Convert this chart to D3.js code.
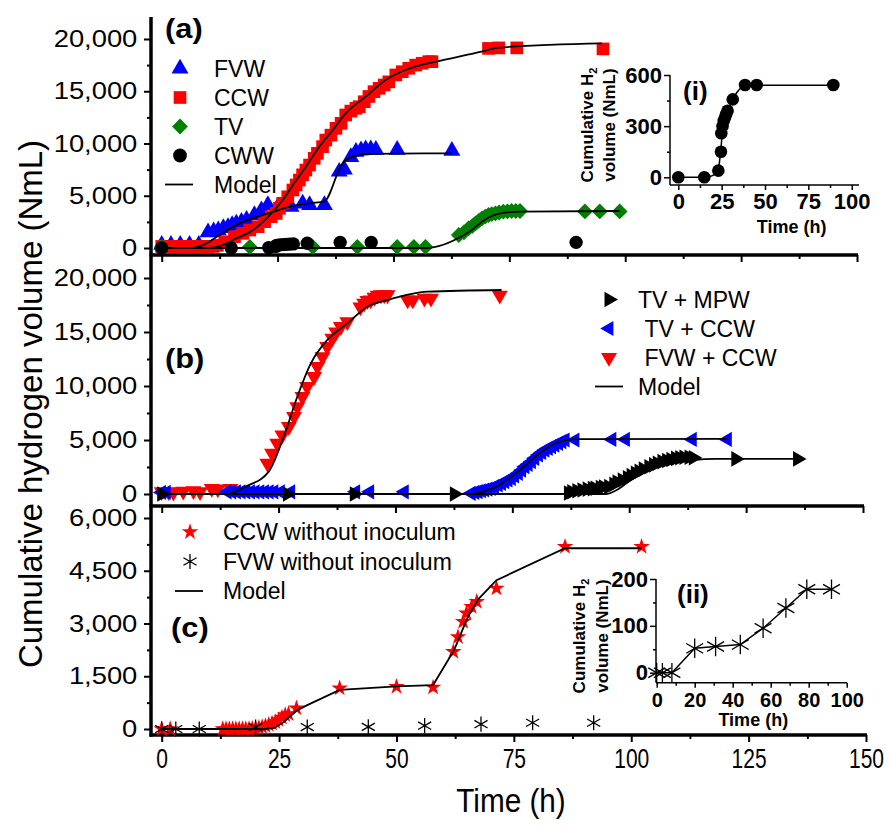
<!DOCTYPE html>
<html>
<head>
<meta charset="utf-8">
<script src="https://cdn.jsdelivr.net/npm/d3@7"></script>
<style>
  body { margin: 0; background: #fff; }
  text { font-family: "Liberation Sans", Arial, sans-serif; fill: #000; }
</style>
</head>
<body>
<svg id="chart" width="890" height="829"></svg>
<script>
'use strict';

// ---- axis ticks ----
var tMajor = [0, 25, 50, 75, 100, 125, 150];
var tMinor = [12.5, 37.5, 62.5, 87.5, 112.5, 137.5];
var vMajorAB = [0, 5000, 10000, 15000, 20000];
var vMinorAB = [2500, 7500, 12500, 17500];
var vMajorC = [0, 1500, 3000, 4500, 6000];
var vMinorC = [750, 2250, 3750, 5250];
var insetITicks = [0, 25, 50, 75, 100];
var insetIMinorX = [12.5, 37.5, 62.5, 87.5];
var insetIYTicks = [0, 300, 600];
var insetIMinorY = [150, 450];
var insetIITicks = [0, 20, 40, 60, 80, 100];
var insetIIMinorX = [10, 30, 50, 70, 90];
var insetIIYTicks = [0, 100, 200];
var insetIIMinorY = [50, 150];

// ---- panel (a): [time h, volume NmL] ----
var fvw = [[0,300],[2,300],[4,300],[6,300],[8,300],[10,1500],[11.2,1600],[12.2,1700],[13.3,1900],[14.3,2000],[15.2,2200],
  [16.1,2350],[17.2,2500],[18.3,2700],[20,3150],[21.5,3600],[22.9,4100],[25,3900],[27.9,3950],[30.4,4250],[31.9,4100],
  [35.1,4100],[38.3,7300],[39.4,7500],[40.8,8700],[41.9,9200],[43,9350],[44,9450],[45.1,9450],[46.2,9400],[50.8,9400],[62.6,9300]];
var ccw = [[0,150],[1,150],[2,150],[3,150],[4,150],[5,150],[6,150],[7,150],[8,150],[9,150],[10,150],[11,150],[12,250],
  [13.6,600],[15.7,1085],[17.5,1400],[19,1720],[20.8,2040],[22.2,2520],[23.6,3000],[24.7,3300],[25.4,3800],[26.1,4280],
  [27.2,4900],[28.3,5550],[29,6030],[29.7,6500],[30.4,7000],[31.1,7460],[31.9,7940],[32.9,8580],[33.6,9060],[34.7,9700],
  [35.4,10330],[36.5,10800],[37.6,11450],[38.7,11930],[39.7,12730],[40.8,13100],[41.9,13370],[42.6,13520],[43.7,14000],
  [44.7,14500],[45.8,14960],[46.9,15280],[48,15600],[49,15900],[50.5,16560],[51.9,16870],[53.3,17200],[54.8,17500],
  [56.2,17680],[57.6,17830],[58.3,17830],[70.5,19100],[72.7,19150],[76.6,19150],[95.2,19050]];
var tv = [[0,100],[19,100],[32.6,100],[42.2,100],[50.8,100],[54.4,100],[56.9,100],[64.1,1245],[65.2,1500],[66.2,1885],
  [67,2100],[67.7,2360],[68.4,2600],[69.1,2840],[69.8,3000],[70.5,3160],[71.2,3250],[72,3320],[72.8,3400],[73.7,3475],
  [74.6,3500],[75.5,3540],[76.4,3540],[77.3,3540],[91.3,3500],[94.5,3500],[98.8,3500]];
var cww = [[0,0],[15,0],[23.1,39],[24.6,150],[24.8,258],[25.5,300],[26.2,330],[26.9,350],[27.6,370],[28.4,390],
  [31.4,457],[38.5,541],[45.2,541],[89.4,541]];
var fvwModel = [[0,0],[6,0],[9,300],[12.5,1250],[16.8,2360],[20,2900],[24,3450],[28,4000],[32,4300],[35,4430],
  [39,8100],[41.2,8740],[45.5,9000],[62.6,9060]];
var ccwModel = [[0,0],[10,0],[13,250],[15.4,765],[19.7,1720],[24,3475],[26.1,4590],[28.3,6030],[31.1,7780],[34,9700],
  [36.9,11290],[39.7,12890],[44,14480],[48.3,16080],[52.6,17030],[57.6,17680],[60,17900],[69,18800],[72.7,19170],[95,19590]];
var tvModel = [[0,0],[57,0],[65.2,1245],[66.9,1720],[69.1,2520],[71.2,3060],[74.1,3380],[77.7,3475],[98.8,3540]];
var cwwModel = [[0,0],[15,0],[22,20],[23.5,70],[24.5,160],[25.5,270],[27,340],[29,400],[31,450],[34,500],[38,535],
  [45,540],[90,540]];

// ---- panel (b) ----
var fvwCcw = [[0,200],[1.5,200],[2.5,150],[4.6,250],[6.8,300],[8.2,200],[10.7,500],[12,450],[14.7,500],
  [22.6,2840],[23.6,3770],[24.7,4690],[25.8,5460],[27.2,6230],[28.3,7160],[29,8080],[30.1,9010],[31.1,9935],
  [32.6,10860],[33.3,11790],[34.4,12710],[35.4,13640],[36.5,14410],[37.3,15000],[38.3,15490],[39.7,15950],
  [42.5,17300],[43.3,17650],[44,17900],[44.7,17960],[45.5,18200],[46.2,18400],[46.9,18430],[47.6,18430],[48.3,18430],
  [52.6,17960],[53.7,17960],[56.2,18120],[57.6,18120],[72.3,18400]];
var tvCcw = [[0,150],[1,150],[14,200],[15,200],[16,200],[17,200],[18,200],[19,200],[20,200],[21,200],[22,200],
  [23,200],[24,200],[25.4,200],[27.6,200],[41.5,200],[44.5,200],[51.9,200],
  [66.2,60],[67,150],[67.7,215],[68.4,300],[69.1,370],[69.8,450],[70.5,525],[71.2,680],[72,835],[72.7,990],
  [73.4,1140],[74.1,1300],[74.8,1450],[75.5,1680],[76.3,1915],[77,2200],[77.7,2530],[78.4,2750],[79.1,3000],
  [79.8,3300],[80.6,3610],[81.3,3850],[82,4070],[82.7,4230],[83.4,4380],[84.1,4530],[84.9,4690],[85.6,4850],
  [86.3,5000],[88.4,5000],[96.3,5050],[99.2,5050],[113.5,5050],[121,5050]];
var tvMpw = [[0,0],[26.9,0],[41.2,0],[62.6,0],[87,100],[87.7,213],[88.8,300],[89.9,370],[91,450],[92.1,500],
  [92.7,525],[93.8,600],[94.5,650],[95.6,680],[96.7,900],[97.4,1100],[98.5,1300],[99.6,1500],[100.4,1700],
  [101.3,1915],[102.1,2100],[103,2300],[104.2,2530],[105.2,2700],[106,2850],[107,3000],[108,3100],[108.9,3200],
  [109.9,3300],[110.8,3350],[111.7,3400],[112.8,3400],[113.7,3350],[122.8,3250],[136,3250]];
var fvwCcwModel = [[0,0],[14,0],[18,700],[22.9,2070],[26.1,5300],[29,9010],[31.9,12100],[35.4,14260],[39.7,15800],
  [44,17340],[48.3,17960],[56.9,18730],[72.7,18890]];
var tvCcwModel = [[0,0],[66,0],[68,120],[70,400],[72,800],[74,1350],[76,2000],[78,2750],[80,3500],[82,4150],
  [84,4650],[86,4950],[89,5080],[121,5100]];
var tvMpwModel = [[0,0],[95,0],[97,300],[99.4,990],[103.4,2220],[106,2600],[109.4,2840],[113.7,3150],[118.5,3250],[136,3250]];

// ---- panel (c) ----
var ccwNoInoc = [[0,0],[1.8,0],[13,0],[13.7,0],[14.4,0],[15.1,0],[15.8,0],[16.5,0],[17.2,0],[17.9,0],[18.6,0],
  [19.3,10],[20,20],[20.7,40],[21.4,60],[22.1,90],[22.8,120],[23.5,160],[24.2,200],[24.9,260],[25.6,330],
  [26.3,400],[27,430],[28.7,590],[37.9,1160],[50,1200],[57.8,1185],[62.1,2200],[63.1,2620],[64.2,3050],
  [64.9,3290],[66,3480],[67.1,3620],[71.3,4000],[85.9,5185],[102.2,5185]];
var fvwNoInoc = [[0,0],[3,0],[8,0],[20,52],[31,56],[44,60],[56,95],[68,138],[79,178],[92,178]];
var ccwNoInocModel = [[0,0],[22,0],[24,30],[26,200],[28.7,520],[31,680],[37.9,1110],[50,1210],[57.8,1250],
  [62.3,2250],[65.2,3190],[67.5,3700],[71.3,4230],[85.9,5140],[102.2,5140]];

var legendA = ['FVW', 'CCW', 'TV', 'CWW', 'Model'];
var legendB = ['TV + MPW', '\u00a0TV + CCW', '\u00a0FVW + CCW', 'Model'];
var legendC = ['CCW without inoculum', 'FVW without inoculum', 'Model'];

var svg = d3.select('#chart');
var BLUE = '#0000ff', RED = '#ff0000', GREEN = '#008000';

// scales
var spineX = 151;
var xA = d3.scaleLinear().domain([0, 150]).range([161.7, 857]);
var xB = d3.scaleLinear().domain([0, 150]).range([161.7, 863]);
var xC = d3.scaleLinear().domain([0, 150]).range([161.7, 866]);
var yA = d3.scaleLinear().domain([0, 20000]).range([248, 39]);
var yB = d3.scaleLinear().domain([0, 20000]).range([494, 278]);
var yC = d3.scaleLinear().domain([0, 6000]).range([729, 518]);
var xI = d3.scaleLinear().domain([0, 100]).range([678.3, 851.7]);
var yI = d3.scaleLinear().domain([0, 600]).range([177.3, 75]);
var xII = d3.scaleLinear().domain([0, 100]).range([656.7, 846.7]);
var yII = d3.scaleLinear().domain([0, 200]).range([672.7, 579]);

// asterisk marker (vertical + two diagonals)
var symbolAsterisk = {
  draw: function(context, size) {
    var r = Math.sqrt(size) / 2;
    [90, 30, 150].forEach(function(a) {
      var c = Math.cos(a * Math.PI / 180) * r, s = Math.sin(a * Math.PI / 180) * r;
      context.moveTo(c, -s);
      context.lineTo(-c, s);
    });
  }
};

function points(data, x, y, type, size, color, rot) {
  var stroke = type === symbolAsterisk;
  svg.append('g').selectAll(null).data(data).join('path')
    .attr('transform', function(d) {
      return 'translate(' + x(d[0]) + ',' + y(d[1]) + ')' + (rot ? ' rotate(' + rot + ')' : '');
    })
    .attr('d', d3.symbol(type, size))
    .attr('fill', stroke ? 'none' : color)
    .attr('stroke', stroke ? color : 'none')
    .attr('stroke-width', stroke ? 1.3 : 0);
}

function model(data, x, y, curve, width) {
  svg.append('path').datum(data)
    .attr('d', d3.line().x(function(d) { return x(d[0]); }).y(function(d) { return y(d[1]); }).curve(curve))
    .attr('fill', 'none').attr('stroke', '#000').attr('stroke-width', width || 1.8);
}

// main y axes
function yAxis(y, major, minor) {
  var m = svg.append('g').attr('transform', 'translate(' + spineX + ',0)')
    .call(d3.axisLeft(y).tickValues(minor).tickSize(4).tickFormat(''));
  m.select('.domain').remove();
  m.selectAll('line').attr('stroke-width', 2);
  var g = svg.append('g').attr('transform', 'translate(' + spineX + ',0)')
    .call(d3.axisLeft(y).tickValues(major).tickSize(7).tickPadding(5).tickFormat(d3.format(',')));
  g.select('.domain').remove();
  g.attr('font-size', 24).attr('font-family', null);
  g.selectAll('line').attr('stroke-width', 2);
  g.selectAll('text').attr('transform', 'scale(1.14,1)');
}

function xAxis(x, base, labels) {
  var m = svg.append('g').attr('transform', 'translate(0,' + base + ')')
    .call(d3.axisBottom(x).tickValues(tMinor).tickSize(4).tickFormat(''));
  m.select('.domain').remove();
  m.selectAll('line').attr('stroke-width', 2);
  var g = svg.append('g').attr('transform', 'translate(0,' + base + ')')
    .call(d3.axisBottom(x).tickValues(tMajor).tickSize(7).tickPadding(6)
      .tickFormat(labels ? d3.format('d') : ''));
  g.select('.domain').remove();
  g.attr('font-size', 28).attr('font-family', null);
  g.selectAll('line').attr('stroke-width', 2);
  g.selectAll('text').attr('transform', 'scale(0.75,1)');
  svg.append('line').attr('x1', spineX - 1.5).attr('x2', x.range()[1] + 1).attr('y1', base).attr('y2', base)
    .attr('stroke', '#000').attr('stroke-width', 3.5);
}

yAxis(yA, vMajorAB, vMinorAB);
yAxis(yB, vMajorAB, vMinorAB);
yAxis(yC, vMajorC, vMinorC);
xAxis(xA, 255, false);
xAxis(xB, 506, false);
xAxis(xC, 735, true);
svg.append('line').attr('x1', spineX).attr('x2', spineX).attr('y1', 17).attr('y2', 736.7)
  .attr('stroke', '#000').attr('stroke-width', 3.5);

// axis titles
svg.append('text').attr('transform', 'translate(42,404) rotate(-90)')
  .attr('text-anchor', 'middle').attr('font-size', 33).text('Cumulative hydrogen volume (NmL)');
svg.append('text').attr('transform', 'translate(511,812) scale(0.9,1)')
  .attr('text-anchor', 'middle').attr('font-size', 33).text('Time (h)');

// ---- panel (a) marks ----
points(fvw, xA, yA, d3.symbolTriangle, 125, BLUE);
points(ccw, xA, yA, d3.symbolSquare, 160, RED);
points(tv, xA, yA, d3.symbolSquare, 125, GREEN, 45);
points(cww, xA, yA, d3.symbolCircle, 140, '#000');
model(fvwModel, xA, yA, d3.curveMonotoneX);
model(ccwModel, xA, yA, d3.curveMonotoneX);
model(tvModel, xA, yA, d3.curveMonotoneX);

// ---- panel (b) marks ----
points(fvwCcw, xB, yB, d3.symbolTriangle, 110, RED, 180);
points(tvCcw, xB, yB, d3.symbolTriangle, 100, BLUE, -90);
points(tvMpw, xB, yB, d3.symbolTriangle, 105, '#000', 90);
model(fvwCcwModel, xB, yB, d3.curveMonotoneX);
model(tvCcwModel, xB, yB, d3.curveMonotoneX);
model(tvMpwModel, xB, yB, d3.curveMonotoneX);

// ---- panel (c) marks ----
points(ccwNoInoc, xC, yC, d3.symbolStar, 85, RED);
points(fvwNoInoc, xC, yC, symbolAsterisk, 230, '#000');
model(ccwNoInocModel, xC, yC, d3.curveLinear);

// panel letters
[['(a)', 165, 38], ['(b)', 165, 368], ['(c)', 171, 637]].forEach(function(p) {
  svg.append('text').attr('transform', 'translate(' + p[1] + ',' + p[2] + ') scale(1.1,1)')
    .attr('font-size', 28).attr('font-weight', 'bold').text(p[0]);
});

// legends
function legend(labels, symX, textX, top, step, marks, lineX) {
  labels.forEach(function(label, i) {
    var cy = top + i * step, mk = marks[i];
    if (mk) {
      var stroke = mk[0] === symbolAsterisk;
      svg.append('path')
        .attr('transform', 'translate(' + symX + ',' + cy + ')' + (mk[3] ? ' rotate(' + mk[3] + ')' : ''))
        .attr('d', d3.symbol(mk[0], mk[1]))
        .attr('fill', stroke ? 'none' : mk[2]).attr('stroke', stroke ? mk[2] : 'none').attr('stroke-width', 1.3);
    } else {
      svg.append('line').attr('x1', lineX[0]).attr('x2', lineX[1]).attr('y1', cy).attr('y2', cy)
        .attr('stroke', '#000').attr('stroke-width', 1.8);
    }
    svg.append('text').attr('x', textX).attr('y', cy + 8).attr('font-size', 23).text(label);
  });
}
legend(legendA, 180, 214, 68.5, 29,
  [[d3.symbolTriangle, 125, BLUE], [d3.symbolSquare, 160, RED], [d3.symbolSquare, 125, GREEN, 45],
   [d3.symbolCircle, 150, '#000'], null], [165, 193]);
legend(legendB, 609, 638, 299.5, 29,
  [[d3.symbolTriangle, 105, '#000', 90], [d3.symbolTriangle, 100, BLUE, -90], [d3.symbolTriangle, 110, RED, 180], null],
  [595, 623]);
legend(legendC, 190, 223, 532, 29.5,
  [[d3.symbolStar, 85, RED], [symbolAsterisk, 230, '#000'], null], [175, 203]);

// ---- insets ----
function inset(x, y, xMaj, xMin, yMaj, yMin, spine, xFont, yFont, xPad) {
  var xg = svg.append('g').attr('transform', 'translate(0,' + spine.y + ')');
  xg.call(d3.axisBottom(x).tickValues(xMin).tickSize(3).tickFormat(''));
  xg.select('.domain').remove();
  var xg2 = svg.append('g').attr('transform', 'translate(0,' + spine.y + ')')
    .call(d3.axisBottom(x).tickValues(xMaj).tickSize(5).tickPadding(xPad));
  xg2.select('.domain').remove();
  xg2.attr('font-size', xFont).attr('font-family', null).attr('font-weight', 'bold');
  var yg = svg.append('g').attr('transform', 'translate(' + spine.x + ',0)')
    .call(d3.axisLeft(y).tickValues(yMin).tickSize(3).tickFormat(''));
  yg.select('.domain').remove();
  var yg2 = svg.append('g').attr('transform', 'translate(' + spine.x + ',0)')
    .call(d3.axisLeft(y).tickValues(yMaj).tickSize(6).tickPadding(2));
  yg2.select('.domain').remove();
  yg2.attr('font-size', yFont).attr('font-family', null).attr('font-weight', 'bold');
  [xg, xg2, yg, yg2].forEach(function(g) { g.selectAll('line').attr('stroke-width', 1.5); });
  svg.append('line').attr('x1', spine.x).attr('x2', spine.x2).attr('y1', spine.y).attr('y2', spine.y)
    .attr('stroke', '#000').attr('stroke-width', 1.5);
  svg.append('line').attr('x1', spine.x).attr('x2', spine.x).attr('y1', spine.top).attr('y2', spine.y)
    .attr('stroke', '#000').attr('stroke-width', 1.5);
}

function insetTitles(cx, cx2, cy, tx, ty, tag, tagX, tagY) {
  var t1 = svg.append('text').attr('transform', 'translate(' + cx + ',' + cy + ') rotate(-90)')
    .attr('text-anchor', 'middle').attr('font-size', 17).attr('font-weight', 'bold');
  t1.append('tspan').text('Cumulative H');
  t1.append('tspan').attr('font-size', 11).attr('dy', 4).text('2');
  svg.append('text').attr('transform', 'translate(' + cx2 + ',' + cy + ') rotate(-90)')
    .attr('text-anchor', 'middle').attr('font-size', 17).attr('font-weight', 'bold').text('volume (NmL)');
  svg.append('text').attr('x', tx).attr('y', ty).attr('text-anchor', 'middle')
    .attr('font-size', 18).attr('font-weight', 'bold').text('Time (h)');
  svg.append('text').attr('x', tagX).attr('y', tagY).attr('font-size', 26).attr('font-weight', 'bold').text(tag);
}

inset(xI, yI, insetITicks, insetIMinorX, insetIYTicks, insetIMinorY,
  { x: 670, x2: 859, y: 185, top: 75 }, 22, 22, 3);
model(cwwModel, xI, yI, d3.curveMonotoneX, 1.5);
points(cww, xI, yI, d3.symbolCircle, 125, '#000');
insetTitles(593, 615, 125, 791.7, 233, '(i)', 683, 100);

inset(xII, yII, insetIITicks, insetIIMinorX, insetIIYTicks, insetIIMinorY,
  { x: 656, x2: 847, y: 682.7, top: 579 }, 20, 22, 5);
model(fvwNoInoc, xII, yII, d3.curveLinear, 1.5);
points(fvwNoInoc, xII, yII, symbolAsterisk, 380, '#000');
insetTitles(585, 608, 636, 753.3, 726, '(ii)', 677, 603);
</script>
</body>
</html>
